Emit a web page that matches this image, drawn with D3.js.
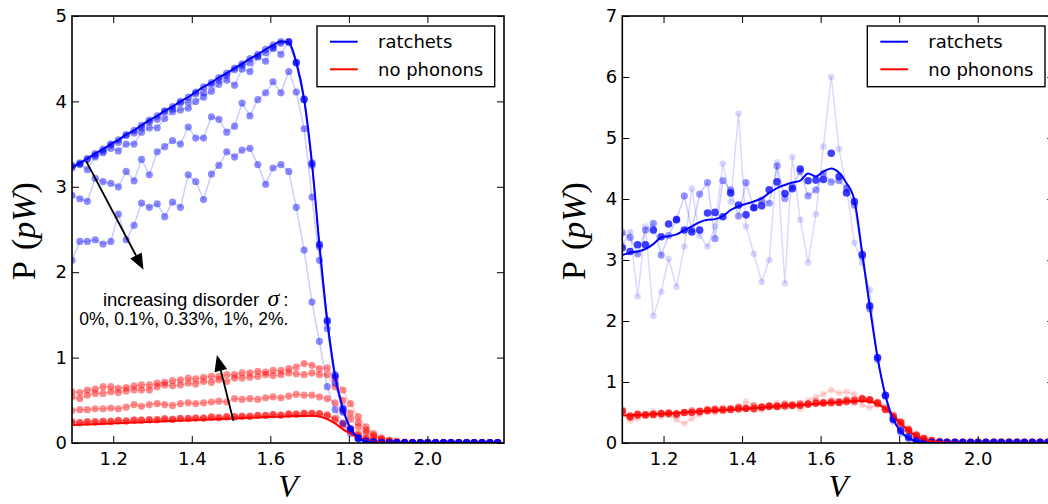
<!DOCTYPE html>
<html><head><meta charset="utf-8">
<script src="https://cdn.jsdelivr.net/npm/d3@7"></script>
<style>body{margin:0;background:#fff}</style>
</head><body>
<svg id="chart" width="1048" height="504"></svg>
<script>
// ---------- data ----------
const V = [1.095,1.115,1.134,1.154,1.174,1.194,1.213,1.233,1.253,1.272,
  1.292,1.312,1.331,1.351,1.371,1.391,1.410,1.430,1.450,1.469,
  1.489,1.509,1.528,1.548,1.568,1.588,1.607,1.627,1.647,1.666,
  1.686,1.706,1.725,1.745,1.765,1.785,1.804,1.824,1.844,1.863,
  1.883,1.903,1.922,1.942,1.962,1.982,2.001,2.021,2.041,2.060,
  2.080,2.100,2.119,2.139,2.159,2.179];

const xTicks = [1.2, 1.4, 1.6, 1.8, 2.0];
const yTicksLeft = [0, 1, 2, 3, 4, 5];
const yTicksRight = [0, 1, 2, 3, 4, 5, 6, 7];
const legendLabels = ["ratchets", "no phonons"];
const annotationText = ["increasing disorder ", "0%, 0.1%, 0.33%, 1%, 2%."];
const arrowFrom = [[1.131, 3.30], [1.506, 0.26]];
const arrowTo = [[1.277, 2.03], [1.464, 1.03]];

// left panel, ratchets (blue) - disorder 0%, 0.1%, 0.33%, 1%, 2%
const blueL_0 = [3.22,3.28,3.33,3.39,3.44,3.50,3.55,3.61,3.66,3.72,
  3.78,3.83,3.89,3.94,4.00,4.05,4.11,4.17,4.22,4.28,
  4.33,4.39,4.44,4.50,4.55,4.61,4.66,4.70,4.69,4.46,
  4.03,3.28,2.32,1.43,0.78,0.40,0.17,0.06,0.02,0.01,
  0,0,0,0,0,0,0,0,0,0,0,0,0,0,0,0];
const blueL_01 = [3.24,3.26,3.32,3.37,3.42,3.49,3.52,3.60,3.63,3.69,
  3.76,3.79,3.88,3.91,3.98,3.99,4.09,4.10,4.20,4.25,
  4.30,4.37,4.42,4.45,4.53,4.57,4.62,4.68,4.70,4.45,
  4.02,3.27,2.33,1.44,0.78,0.41,0.16,0.06,0.02,0.01,
  0.005,0.005,0.005,0.005,0.005,0.005,0.005,0.005,0.005,0.005,0.005,0.005,0.005,0.005,0.005,0.005];
const blueL_033 = [3.25,3.27,3.20,3.35,3.40,3.45,3.42,3.50,3.50,3.64,
  3.69,3.69,3.80,3.88,3.90,3.92,4.00,4.05,4.12,4.20,
  4.25,4.19,4.38,4.35,4.52,4.47,4.63,4.55,4.70,4.45,
  4.02,3.25,2.30,1.42,0.80,0.38,0.15,0.05,0.02,0.01,
  0.005,0.005,0.005,0.005,0.005,0.005,0.005,0.005,0.005,0.005,0.005,0.005,0.005,0.005,0.005,0.005];
const blueL_1 = [2.90,2.86,2.83,3.10,3.06,3.04,3.00,3.18,3.07,3.32,
  3.14,3.41,3.47,3.54,3.50,3.70,3.57,3.57,3.82,3.79,
  3.64,3.71,3.98,3.83,4.02,4.10,4.23,4.10,4.35,4.11,
  3.68,2.88,2.14,1.34,0.70,0.36,0.16,0.06,0.02,0.01,
  0.005,0.005,0.005,0.005,0.005,0.005,0.005,0.005,0.005,0.005,0.005,0.005,0.005,0.005,0.005,0.005];
const blueL_2 = [2.14,2.36,2.36,2.38,2.33,2.36,2.68,2.38,2.55,2.81,
  2.76,2.80,2.65,2.82,2.76,3.14,3.06,2.85,3.15,3.25,
  3.41,3.35,3.43,3.45,3.26,3.03,3.22,3.26,3.18,2.76,
  2.26,1.65,1.19,0.66,0.39,0.23,0.11,0.05,0.02,0.01,
  0.005,0.005,0.005,0.005,0.005,0.005,0.005,0.005,0.005,0.005,0.005,0.005,0.005,0.005,0.005,0.005];

// left panel, no phonons (red)
const redL_line = [0.21,0.214,0.218,0.221,0.225,0.229,0.232,0.236,0.24,0.243,
  0.247,0.251,0.254,0.258,0.262,0.265,0.269,0.273,0.276,0.28,
  0.284,0.288,0.292,0.296,0.30,0.303,0.306,0.309,0.312,0.315,
  0.317,0.318,0.31,0.28,0.23,0.16,0.11,0.06,0.03,0.015,
  0.007,0.003,0,0,0,0,0,0,0,0,0,0,0,0,0,0];
const redL_0 = [0.24,0.24,0.245,0.25,0.25,0.255,0.26,0.26,0.265,0.27,
  0.27,0.275,0.28,0.28,0.285,0.29,0.29,0.295,0.30,0.30,
  0.305,0.31,0.31,0.315,0.32,0.325,0.33,0.33,0.335,0.34,
  0.345,0.35,0.34,0.32,0.27,0.21,0.15,0.09,0.05,0.03,
  0.015,0.008,0.005,0.005,0.005,0.005,0.005,0.005,0.005,0.005,0.005,0.005,0.005,0.005,0.005,0.005];
const redL_01 = [0.25,0.235,0.25,0.245,0.255,0.25,0.265,0.255,0.27,0.265,
  0.275,0.27,0.285,0.275,0.29,0.285,0.295,0.29,0.305,0.295,
  0.31,0.305,0.315,0.31,0.325,0.32,0.335,0.325,0.34,0.335,
  0.35,0.345,0.345,0.33,0.29,0.23,0.17,0.11,0.06,0.035,
  0.02,0.01,0.005,0.005,0.005,0.005,0.005,0.005,0.005,0.005,0.005,0.005,0.005,0.005,0.005,0.005];
const redL_033 = [0.38,0.39,0.39,0.40,0.40,0.41,0.40,0.42,0.45,0.43,
  0.45,0.46,0.45,0.44,0.46,0.47,0.46,0.47,0.48,0.49,
  0.48,0.52,0.51,0.52,0.51,0.53,0.54,0.53,0.55,0.57,
  0.56,0.56,0.54,0.52,0.47,0.38,0.28,0.19,0.12,0.07,
  0.04,0.02,0.01,0.005,0.005,0.005,0.005,0.005,0.005,0.005,0.005,0.005,0.005,0.005,0.005,0.005];
const redL_1 = [0.54,0.52,0.56,0.58,0.58,0.60,0.59,0.61,0.62,0.62,
  0.62,0.66,0.68,0.67,0.68,0.70,0.69,0.72,0.71,0.74,
  0.72,0.76,0.76,0.77,0.78,0.80,0.79,0.80,0.82,0.81,
  0.80,0.82,0.80,0.80,0.66,0.50,0.35,0.24,0.15,0.09,
  0.05,0.03,0.015,0.008,0.005,0.005,0.005,0.005,0.005,0.005,0.005,0.005,0.005,0.005,0.005,0.005];
const redL_2 = [0.60,0.59,0.62,0.63,0.66,0.66,0.64,0.65,0.67,0.68,
  0.68,0.70,0.71,0.73,0.74,0.76,0.75,0.77,0.78,0.78,
  0.80,0.80,0.82,0.82,0.84,0.83,0.85,0.85,0.87,0.89,
  0.93,0.91,0.87,0.88,0.75,0.62,0.46,0.31,0.19,0.11,
  0.06,0.03,0.02,0.01,0.005,0.005,0.005,0.005,0.005,0.005,0.005,0.005,0.005,0.005,0.005,0.005];

// right panel, ratchets (blue)
const blueR_line = [3.08,3.12,3.14,3.18,3.26,3.37,3.39,3.42,3.49,3.55,
  3.62,3.66,3.67,3.72,3.82,3.88,3.92,3.96,4.01,4.10,
  4.18,4.23,4.27,4.30,4.42,4.37,4.45,4.50,4.43,4.26,
  3.98,3.11,2.25,1.40,0.78,0.39,0.19,0.08,0.03,0.01,
  0,0,0,0,0,0,0,0,0,0,0,0,0,0,0,0];
const blueR_dark = [3.20,3.14,3.25,3.25,3.49,3.38,3.59,3.66,3.49,3.46,
  3.49,3.77,3.78,3.71,4.10,3.90,3.74,3.86,3.89,4.15,
  4.28,4.09,4.17,4.49,4.30,4.31,4.32,4.75,4.37,4.10,
  3.96,3.09,2.25,1.40,0.78,0.39,0.21,0.10,0.04,0.02,
  0.01,0.01,0.01,0.01,0.01,0.01,0.01,0.01,0.01,0.01,0.01,0.01,0.01,0.01,0.01,0.01];
const blueR_mid = [3.45,3.37,3.10,3.49,3.60,3.08,3.40,3.67,4.05,3.50,
  4.08,4.27,3.35,4.30,4.15,3.72,4.27,3.85,3.98,3.93,
  4.54,4.01,4.20,4.45,4.05,4.15,4.42,4.28,4.30,4.18,
  3.90,3.05,2.20,1.38,0.78,0.38,0.18,0.08,0.03,0.01,
  0.01,0.01,0.01,0.01,0.01,0.01,0.01,0.01,0.01,0.01,0.01,0.01,0.01,0.01,0.01,0.01];
const blueR_faint = [3.25,3.46,2.40,3.55,2.08,2.48,3.02,2.56,3.22,4.17,
  3.40,3.22,3.55,4.58,3.95,5.40,3.55,3.10,2.64,3.00,
  4.60,2.62,4.69,3.66,2.96,3.75,4.86,6.00,4.82,4.17,
  3.28,2.95,2.51,1.35,0.75,0.35,0.15,0.06,0.02,0.01,
  0.01,0.01,0.01,0.01,0.01,0.01,0.01,0.01,0.01,0.01,0.01,0.01,0.01,0.01,0.01,0.01];

// right panel, no phonons (red)
const redR_line = [0.45,0.455,0.46,0.465,0.47,0.475,0.48,0.49,0.50,0.51,
  0.52,0.525,0.53,0.54,0.545,0.55,0.56,0.57,0.58,0.59,
  0.60,0.61,0.615,0.62,0.63,0.64,0.65,0.66,0.67,0.68,
  0.685,0.69,0.68,0.64,0.56,0.45,0.32,0.20,0.11,0.06,
  0.03,0.015,0.007,0.003,0,0,0,0,0,0,0,0,0,0,0,0];
const redR_dark = [0.52,0.44,0.47,0.46,0.47,0.48,0.49,0.48,0.50,0.50,
  0.52,0.53,0.54,0.55,0.55,0.56,0.57,0.56,0.59,0.60,
  0.60,0.61,0.62,0.62,0.64,0.65,0.66,0.66,0.67,0.68,
  0.70,0.72,0.71,0.65,0.55,0.43,0.33,0.21,0.12,0.07,
  0.04,0.02,0.01,0.01,0.01,0.01,0.01,0.01,0.01,0.01,0.01,0.01,0.01,0.01,0.01,0.01];
const redR_mid = [0.54,0.42,0.45,0.47,0.46,0.49,0.47,0.46,0.50,0.53,
  0.51,0.55,0.56,0.53,0.57,0.59,0.56,0.61,0.58,0.61,
  0.60,0.64,0.61,0.65,0.63,0.68,0.65,0.69,0.66,0.71,
  0.67,0.73,0.70,0.67,0.58,0.46,0.35,0.23,0.14,0.08,
  0.04,0.02,0.01,0.01,0.01,0.01,0.01,0.01,0.01,0.01,0.01,0.01,0.01,0.01,0.01,0.01];
const redR_faint = [0.50,0.36,0.40,0.45,0.52,0.43,0.48,0.38,0.32,0.40,
  0.47,0.52,0.50,0.58,0.55,0.60,0.68,0.62,0.54,0.60,
  0.66,0.58,0.64,0.56,0.70,0.75,0.80,0.87,0.82,0.84,
  0.80,0.62,0.58,0.62,0.55,0.42,0.30,0.20,0.12,0.06,
  0.03,0.02,0.01,0.01,0.01,0.01,0.01,0.01,0.01,0.01,0.01,0.01,0.01,0.01,0.01,0.01];

// ---------- drawing ----------
const BLUE = "#0000ff", RED = "#ff0000";
const TOP = 16, BOTTOM = 443;
const svg = d3.select("#chart");
svg.append("rect").attr("width", 1048).attr("height", 504).attr("fill", "#fff");
const defs = svg.append("defs");

function drawPanel(cfg) {
  const x = d3.scaleLinear().domain([1.095, 2.195]).range([cfg.x0, cfg.x1]);
  const y = d3.scaleLinear().domain([0, cfg.yMax]).range([BOTTOM, TOP]);
  const g = svg.append("g");
  defs.append("clipPath").attr("id", cfg.id).append("rect")
    .attr("x", cfg.x0).attr("y", TOP).attr("width", cfg.x1 - cfg.x0).attr("height", BOTTOM - TOP);
  const plot = g.append("g").attr("clip-path", `url(#${cfg.id})`);

  const lin = d3.line().x((d, i) => x(V[i])).y(d => y(d));
  const smooth = d3.line().x((d, i) => x(V[i])).y(d => y(d)).curve(d3.curveMonotoneX);

  cfg.dots.forEach(s => {
    if (s.lineAlpha > 0) {
      plot.append("path").attr("d", lin(s.values)).attr("fill", "none")
        .attr("stroke", s.color).attr("stroke-opacity", s.lineAlpha).attr("stroke-width", 1.5);
    }
    plot.append("g").selectAll("circle").data(s.values).join("circle")
      .attr("cx", (d, i) => x(V[i])).attr("cy", d => y(d)).attr("r", s.r)
      .attr("fill", s.color).attr("fill-opacity", s.alpha);
  });
  cfg.lines.forEach(s => {
    plot.append("path").attr("d", smooth(s.values)).attr("fill", "none")
      .attr("stroke", s.color).attr("stroke-width", 2);
  });

  // axes with inward ticks on all four sides
  const styleAxis = sel => {
    sel.select(".domain").remove();
    sel.attr("font-family", "'DejaVu Sans', sans-serif").attr("font-size", 18);
    sel.selectAll("text").attr("fill", "#000");
    sel.selectAll("line").attr("stroke", "#000").attr("stroke-width", 1);
  };
  g.append("g").attr("transform", `translate(0,${BOTTOM})`)
    .call(d3.axisBottom(x).tickValues(xTicks).tickFormat(d3.format(".1f")).tickSizeInner(-7).tickSizeOuter(0).tickPadding(9))
    .call(styleAxis);
  g.append("g").attr("transform", `translate(0,${TOP})`)
    .call(d3.axisTop(x).tickValues(xTicks).tickFormat("").tickSizeInner(-7).tickSizeOuter(0))
    .call(styleAxis);
  g.append("g").attr("transform", `translate(${cfg.x0},0)`)
    .call(d3.axisLeft(y).tickValues(cfg.yTicks).tickFormat(d3.format("d")).tickSizeInner(-7).tickSizeOuter(0).tickPadding(5))
    .call(styleAxis);
  g.append("g").attr("transform", `translate(${cfg.x1},0)`)
    .call(d3.axisRight(y).tickValues(cfg.yTicks).tickFormat("").tickSizeInner(-7).tickSizeOuter(0))
    .call(styleAxis);
  g.append("rect").attr("x", cfg.x0).attr("y", TOP).attr("width", cfg.x1 - cfg.x0).attr("height", BOTTOM - TOP)
    .attr("fill", "none").attr("stroke", "#000").attr("stroke-width", 1.6);

  // axis labels
  const yl = g.append("text")
    .attr("transform", `translate(${cfg.ylabelX},231) rotate(-90)`)
    .attr("text-anchor", "middle")
    .style("font-family", "'Liberation Serif', 'DejaVu Serif', serif").style("font-size", "34px");
  yl.append("tspan").text("P");
  yl.append("tspan").attr("dx", 11).text("(");
  yl.append("tspan").style("font-style", "italic").text("pW");
  yl.append("tspan").text(")");
  g.append("text").attr("x", (cfg.x0 + cfg.x1) / 2).attr("y", 497).attr("text-anchor", "middle")
    .style("font-family", "'Liberation Serif', 'DejaVu Serif', serif").style("font-size", "32px")
    .style("font-style", "italic").text("V");

  // legend
  const lx = cfg.x1 - 187, ly = 26;
  const lg = g.append("g");
  lg.append("rect").attr("x", lx).attr("y", ly).attr("width", 177.7).attr("height", 60.7)
    .attr("fill", "#fff").attr("stroke", "#000").attr("stroke-width", 1.4);
  [BLUE, RED].forEach((c, i) => {
    const yy = ly + 15.7 + i * 27.6;
    lg.append("line").attr("x1", lx + 13).attr("x2", lx + 40.7).attr("y1", yy).attr("y2", yy)
      .attr("stroke", c).attr("stroke-width", 2);
    lg.append("text").attr("x", lx + 61).attr("y", yy + 6.6)
      .style("font-family", "'DejaVu Sans', sans-serif").style("font-size", "18px").text(legendLabels[i]);
  });
  return {g, x, y};
}

const blueDot = (values) => ({values, color: BLUE, alpha: 0.45, lineAlpha: 0.2, r: 3.6});
const redDot = (values) => ({values, color: RED, alpha: 0.45, lineAlpha: 0.2, r: 3.6});

const left = drawPanel({
  id: "clipL", x0: 72, x1: 504, yMax: 5, yTicks: yTicksLeft, ylabelX: 35,
  dots: [redDot(redL_0), redDot(redL_01), redDot(redL_033), redDot(redL_1), redDot(redL_2),
         blueDot(blueL_0), blueDot(blueL_01), blueDot(blueL_033), blueDot(blueL_1), blueDot(blueL_2)],
  lines: [{values: redL_line, color: RED}, {values: blueL_0, color: BLUE}]
});

drawPanel({
  id: "clipR", x0: 622.3, x1: 1054.3, yMax: 7, yTicks: yTicksRight, ylabelX: 584.7,
  dots: [
    {values: redR_faint, color: RED, alpha: 0.15, lineAlpha: 0.15, r: 3.3},
    {values: redR_mid, color: RED, alpha: 0.4, lineAlpha: 0.2, r: 3.6},
    {values: redR_dark, color: RED, alpha: 0.75, lineAlpha: 0, r: 3.8},
    {values: blueR_faint, color: BLUE, alpha: 0.15, lineAlpha: 0.15, r: 3.3},
    {values: blueR_mid, color: BLUE, alpha: 0.4, lineAlpha: 0.2, r: 3.6},
    {values: blueR_dark, color: BLUE, alpha: 0.75, lineAlpha: 0, r: 3.8}
  ],
  lines: [{values: redR_line, color: RED}, {values: blueR_line, color: BLUE}]
});

// annotation (left panel)
{
  const {g, x, y} = left;
  const ax = x(1.646);
  const t1 = g.append("text").attr("x", ax).attr("y", y(1.61)).attr("text-anchor", "end")
    .style("font-family", "'Liberation Sans', Arial, sans-serif").style("font-size", "18.5px");
  t1.append("tspan").text(annotationText[0]);
  t1.append("tspan").attr("dx", 3).style("font-family", "'Liberation Serif', serif").style("font-style", "italic")
    .style("font-size", "24px").text("σ");
  t1.append("tspan").attr("dx", 4).text(":");
  g.append("text").attr("x", ax).attr("y", y(1.38)).attr("text-anchor", "end")
    .style("font-family", "'Liberation Sans', Arial, sans-serif").style("font-size", "17.5px")
    .text(annotationText[1]);

  arrowFrom.forEach((p, i) => {
    const x1 = x(p[0]), y1 = y(p[1]), x2 = x(arrowTo[i][0]), y2 = y(arrowTo[i][1]);
    const ang = Math.atan2(y2 - y1, x2 - x1);
    const hl = 16, hw = 6.5;
    const bx = x2 - hl * Math.cos(ang), by = y2 - hl * Math.sin(ang);
    g.append("line").attr("x1", x1).attr("y1", y1).attr("x2", bx).attr("y2", by)
      .attr("stroke", "#000").attr("stroke-width", 1.8);
    const pts = [[x2, y2],
      [bx + hw * Math.sin(ang), by - hw * Math.cos(ang)],
      [bx - hw * Math.sin(ang), by + hw * Math.cos(ang)]];
    g.append("polygon").attr("points", pts.map(q => q.join(",")).join(" ")).attr("fill", "#000");
  });
}
</script>
</body></html>
